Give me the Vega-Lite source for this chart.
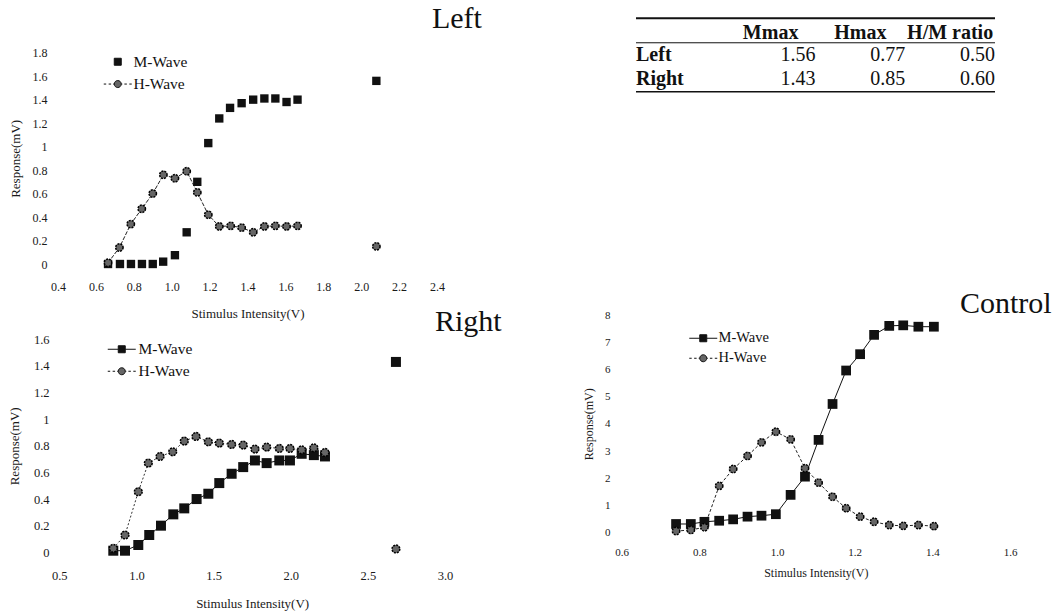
{
"$schema": "https://vega.github.io/schema/vega-lite/v6.json",
"width": 1059, "height": 613,
"autosize": {"type": "none"},
"padding": 0,
"background": "white",
"config": {
  "view": {"stroke": null},
  "axis": {"grid": false, "domain": false, "ticks": false, "labelFont": "Liberation Serif", "titleFont": "Liberation Serif", "labelColor": "#1a1a1a", "titleColor": "#1a1a1a", "titleFontWeight": "normal", "labelPadding": 0, "labelFlush": false, "labelOverlap": false},
  "text": {"font": "Liberation Serif", "color": "#111"}
},
"datasets": {
  "left": [
    {"intensity":0.664,"response":0,"wave":"M-Wave","set":"curve"},
    {"intensity":0.727,"response":0,"wave":"M-Wave","set":"curve"},
    {"intensity":0.785,"response":0,"wave":"M-Wave","set":"curve"},
    {"intensity":0.843,"response":0,"wave":"M-Wave","set":"curve"},
    {"intensity":0.900,"response":0,"wave":"M-Wave","set":"curve"},
    {"intensity":0.955,"response":0.02,"wave":"M-Wave","set":"curve"},
    {"intensity":1.017,"response":0.075,"wave":"M-Wave","set":"curve"},
    {"intensity":1.079,"response":0.27,"wave":"M-Wave","set":"curve"},
    {"intensity":1.135,"response":0.70,"wave":"M-Wave","set":"curve"},
    {"intensity":1.193,"response":1.03,"wave":"M-Wave","set":"curve"},
    {"intensity":1.251,"response":1.24,"wave":"M-Wave","set":"curve"},
    {"intensity":1.308,"response":1.33,"wave":"M-Wave","set":"curve"},
    {"intensity":1.369,"response":1.37,"wave":"M-Wave","set":"curve"},
    {"intensity":1.430,"response":1.40,"wave":"M-Wave","set":"curve"},
    {"intensity":1.489,"response":1.41,"wave":"M-Wave","set":"curve"},
    {"intensity":1.547,"response":1.41,"wave":"M-Wave","set":"curve"},
    {"intensity":1.606,"response":1.38,"wave":"M-Wave","set":"curve"},
    {"intensity":1.664,"response":1.40,"wave":"M-Wave","set":"curve"},
    {"intensity":2.080,"response":1.56,"wave":"M-Wave","set":"max"},
    {"intensity":0.664,"response":0.01,"wave":"H-Wave","set":"curve"},
    {"intensity":0.724,"response":0.14,"wave":"H-Wave","set":"curve"},
    {"intensity":0.784,"response":0.34,"wave":"H-Wave","set":"curve"},
    {"intensity":0.842,"response":0.47,"wave":"H-Wave","set":"curve"},
    {"intensity":0.900,"response":0.60,"wave":"H-Wave","set":"curve"},
    {"intensity":0.956,"response":0.76,"wave":"H-Wave","set":"curve"},
    {"intensity":1.017,"response":0.73,"wave":"H-Wave","set":"curve"},
    {"intensity":1.079,"response":0.79,"wave":"H-Wave","set":"curve"},
    {"intensity":1.135,"response":0.61,"wave":"H-Wave","set":"curve"},
    {"intensity":1.193,"response":0.42,"wave":"H-Wave","set":"curve"},
    {"intensity":1.251,"response":0.32,"wave":"H-Wave","set":"curve"},
    {"intensity":1.311,"response":0.325,"wave":"H-Wave","set":"curve"},
    {"intensity":1.369,"response":0.31,"wave":"H-Wave","set":"curve"},
    {"intensity":1.430,"response":0.27,"wave":"H-Wave","set":"curve"},
    {"intensity":1.489,"response":0.32,"wave":"H-Wave","set":"curve"},
    {"intensity":1.547,"response":0.325,"wave":"H-Wave","set":"curve"},
    {"intensity":1.606,"response":0.32,"wave":"H-Wave","set":"curve"},
    {"intensity":1.664,"response":0.325,"wave":"H-Wave","set":"curve"},
    {"intensity":2.080,"response":0.15,"wave":"H-Wave","set":"max"}
  ],
  "right": [
    {"intensity":0.850,"response":0.012,"wave":"M-Wave","set":"curve"},
    {"intensity":0.926,"response":0.012,"wave":"M-Wave","set":"curve"},
    {"intensity":1.012,"response":0.055,"wave":"M-Wave","set":"curve"},
    {"intensity":1.083,"response":0.13,"wave":"M-Wave","set":"curve"},
    {"intensity":1.159,"response":0.20,"wave":"M-Wave","set":"curve"},
    {"intensity":1.239,"response":0.285,"wave":"M-Wave","set":"curve"},
    {"intensity":1.310,"response":0.33,"wave":"M-Wave","set":"curve"},
    {"intensity":1.390,"response":0.40,"wave":"M-Wave","set":"curve"},
    {"intensity":1.466,"response":0.44,"wave":"M-Wave","set":"curve"},
    {"intensity":1.537,"response":0.52,"wave":"M-Wave","set":"curve"},
    {"intensity":1.617,"response":0.59,"wave":"M-Wave","set":"curve"},
    {"intensity":1.692,"response":0.64,"wave":"M-Wave","set":"curve"},
    {"intensity":1.768,"response":0.69,"wave":"M-Wave","set":"curve"},
    {"intensity":1.844,"response":0.67,"wave":"M-Wave","set":"curve"},
    {"intensity":1.926,"response":0.69,"wave":"M-Wave","set":"curve"},
    {"intensity":1.995,"response":0.69,"wave":"M-Wave","set":"curve"},
    {"intensity":2.071,"response":0.74,"wave":"M-Wave","set":"curve"},
    {"intensity":2.150,"response":0.73,"wave":"M-Wave","set":"curve"},
    {"intensity":2.222,"response":0.72,"wave":"M-Wave","set":"curve"},
    {"intensity":2.682,"response":1.43,"wave":"M-Wave","set":"max"},
    {"intensity":0.850,"response":0.03,"wave":"H-Wave","set":"curve"},
    {"intensity":0.926,"response":0.13,"wave":"H-Wave","set":"curve"},
    {"intensity":1.012,"response":0.455,"wave":"H-Wave","set":"curve"},
    {"intensity":1.077,"response":0.67,"wave":"H-Wave","set":"curve"},
    {"intensity":1.153,"response":0.72,"wave":"H-Wave","set":"curve"},
    {"intensity":1.235,"response":0.755,"wave":"H-Wave","set":"curve"},
    {"intensity":1.310,"response":0.835,"wave":"H-Wave","set":"curve"},
    {"intensity":1.386,"response":0.87,"wave":"H-Wave","set":"curve"},
    {"intensity":1.466,"response":0.83,"wave":"H-Wave","set":"curve"},
    {"intensity":1.537,"response":0.82,"wave":"H-Wave","set":"curve"},
    {"intensity":1.617,"response":0.81,"wave":"H-Wave","set":"curve"},
    {"intensity":1.692,"response":0.805,"wave":"H-Wave","set":"curve"},
    {"intensity":1.768,"response":0.775,"wave":"H-Wave","set":"curve"},
    {"intensity":1.844,"response":0.79,"wave":"H-Wave","set":"curve"},
    {"intensity":1.926,"response":0.78,"wave":"H-Wave","set":"curve"},
    {"intensity":1.995,"response":0.78,"wave":"H-Wave","set":"curve"},
    {"intensity":2.071,"response":0.77,"wave":"H-Wave","set":"curve"},
    {"intensity":2.150,"response":0.785,"wave":"H-Wave","set":"curve"},
    {"intensity":2.222,"response":0.75,"wave":"H-Wave","set":"curve"},
    {"intensity":2.682,"response":0.025,"wave":"H-Wave","set":"max"}
  ],
  "control": [
    {"intensity":0.740,"response":0.32,"wave":"M-Wave","set":"curve"},
    {"intensity":0.778,"response":0.32,"wave":"M-Wave","set":"curve"},
    {"intensity":0.813,"response":0.40,"wave":"M-Wave","set":"curve"},
    {"intensity":0.851,"response":0.44,"wave":"M-Wave","set":"curve"},
    {"intensity":0.887,"response":0.49,"wave":"M-Wave","set":"curve"},
    {"intensity":0.924,"response":0.59,"wave":"M-Wave","set":"curve"},
    {"intensity":0.960,"response":0.625,"wave":"M-Wave","set":"curve"},
    {"intensity":0.997,"response":0.68,"wave":"M-Wave","set":"curve"},
    {"intensity":1.035,"response":1.39,"wave":"M-Wave","set":"curve"},
    {"intensity":1.072,"response":2.06,"wave":"M-Wave","set":"curve"},
    {"intensity":1.107,"response":3.41,"wave":"M-Wave","set":"curve"},
    {"intensity":1.143,"response":4.73,"wave":"M-Wave","set":"curve"},
    {"intensity":1.178,"response":5.96,"wave":"M-Wave","set":"curve"},
    {"intensity":1.214,"response":6.56,"wave":"M-Wave","set":"curve"},
    {"intensity":1.250,"response":7.27,"wave":"M-Wave","set":"curve"},
    {"intensity":1.289,"response":7.60,"wave":"M-Wave","set":"curve"},
    {"intensity":1.325,"response":7.62,"wave":"M-Wave","set":"curve"},
    {"intensity":1.364,"response":7.57,"wave":"M-Wave","set":"curve"},
    {"intensity":1.404,"response":7.57,"wave":"M-Wave","set":"end"},
    {"intensity":0.740,"response":0.06,"wave":"H-Wave","set":"curve"},
    {"intensity":0.778,"response":0.10,"wave":"H-Wave","set":"curve"},
    {"intensity":0.813,"response":0.20,"wave":"H-Wave","set":"curve"},
    {"intensity":0.851,"response":1.72,"wave":"H-Wave","set":"curve"},
    {"intensity":0.887,"response":2.34,"wave":"H-Wave","set":"curve"},
    {"intensity":0.924,"response":2.82,"wave":"H-Wave","set":"curve"},
    {"intensity":0.960,"response":3.32,"wave":"H-Wave","set":"curve"},
    {"intensity":0.997,"response":3.71,"wave":"H-Wave","set":"curve"},
    {"intensity":1.035,"response":3.43,"wave":"H-Wave","set":"curve"},
    {"intensity":1.072,"response":2.37,"wave":"H-Wave","set":"curve"},
    {"intensity":1.107,"response":1.84,"wave":"H-Wave","set":"curve"},
    {"intensity":1.143,"response":1.32,"wave":"H-Wave","set":"curve"},
    {"intensity":1.178,"response":0.90,"wave":"H-Wave","set":"curve"},
    {"intensity":1.214,"response":0.59,"wave":"H-Wave","set":"curve"},
    {"intensity":1.250,"response":0.40,"wave":"H-Wave","set":"curve"},
    {"intensity":1.289,"response":0.28,"wave":"H-Wave","set":"curve"},
    {"intensity":1.325,"response":0.25,"wave":"H-Wave","set":"curve"},
    {"intensity":1.364,"response":0.28,"wave":"H-Wave","set":"curve"},
    {"intensity":1.404,"response":0.24,"wave":"H-Wave","set":"curve"}
  ],
  "table": [
    {"kind":"header","row":"header","col":"Mmax","text":"Mmax"},
    {"kind":"header","row":"header","col":"Hmax","text":"Hmax"},
    {"kind":"header","row":"header","col":"H/M ratio","text":"H/M ratio"},
    {"kind":"label","row":"Left","col":"label","text":"Left"},
    {"kind":"label","row":"Right","col":"label","text":"Right"},
    {"kind":"value","row":"Left","col":"Mmax","text":"1.56"},
    {"kind":"value","row":"Left","col":"Hmax","text":"0.77"},
    {"kind":"value","row":"Left","col":"H/M ratio","text":"0.50"},
    {"kind":"value","row":"Right","col":"Mmax","text":"1.43"},
    {"kind":"value","row":"Right","col":"Hmax","text":"0.85"},
    {"kind":"value","row":"Right","col":"H/M ratio","text":"0.60"}
  ]
},
"layer": [
  {
    "data": {"name": "left"},
    "encoding": {
      "x": {"field": "intensity", "type": "quantitative",
            "scale": {"domain": [0.4, 2.4], "range": [58, 437], "nice": false, "zero": false},
            "axis": {"orient": "bottom", "offset": -332, "values": [0.4,0.6,0.8,1.0,1.2,1.4,1.6,1.8,2.0,2.2,2.4], "format": ".1f", "labelFontSize": 12, "title": "Stimulus Intensity(V)", "titleFontSize": 13, "titlePadding": 15}},
      "y": {"field": "response", "type": "quantitative",
            "scale": {"domain": [0, 1.8], "range": [264, 52.7], "nice": false, "zero": false},
            "axis": {"orient": "left", "offset": -47, "values": [0,0.2,0.4,0.6,0.8,1,1.2,1.4,1.6,1.8], "format": "~g", "labelFontSize": 12, "title": "Response(mV)", "titleFontSize": 13, "titlePadding": 10}}
    },
    "layer": [
      {"transform": [{"filter": "datum.wave === 'H-Wave' && datum.set === 'curve'"}],
       "mark": {"type": "line", "stroke": "#222", "strokeWidth": 1, "strokeDash": [4, 1.5]}},
      {"transform": [{"filter": "datum.wave === 'M-Wave'"}],
       "mark": {"type": "square", "color": "#111", "size": 70, "opacity": 1}},
      {"transform": [{"filter": "datum.wave === 'H-Wave'"}],
       "mark": {"type": "point", "shape": "circle", "filled": true, "fill": "#666", "stroke": "#000", "strokeWidth": 1.5, "strokeDash": [2, 1], "size": 55, "opacity": 1}},
      {"mark": {"type": "point", "filled": true, "opacity": 0},
       "encoding": {
         "shape": {"field": "wave", "type": "nominal",
                   "scale": {"domain": ["M-Wave", "H-Wave"], "range": ["square", "M-4,0H-3.3M-2.6,0H-1.9M-1.3,0H-1M1,0H1.3M1.9,0H2.6M3.3,0H4M-1,0A1,1,0,1,1,1,0A1,1,0,1,1,-1,0Z"]},
                   "legend": {"orient": "none", "legendX": 110, "legendY": 54, "direction": "vertical", "title": null, "padding": 0, "symbolSize": 49, "symbolOpacity": 1, "labelFont": "Liberation Serif", "labelFontSize": 15.5, "labelColor": "#111", "labelOffset": 8, "rowPadding": 5.3, "encode": {"symbols": {"update": {"stroke": {"value": "#111"}, "strokeWidth": {"value": 1}}}}}},
         "color": {"field": "wave", "type": "nominal",
                   "scale": {"domain": ["M-Wave", "H-Wave"], "range": ["#111", "#666"]},
                   "legend": {"orient": "none", "legendX": 110, "legendY": 54, "direction": "vertical", "title": null, "padding": 0, "symbolSize": 49, "symbolOpacity": 1, "labelFont": "Liberation Serif", "labelFontSize": 15.5, "labelColor": "#111", "labelOffset": 8, "rowPadding": 5.3, "encode": {"symbols": {"update": {"stroke": {"value": "#111"}, "strokeWidth": {"value": 1}}}}}}
       }},
      {"transform": [{"filter": "datum.wave === 'M-Wave' && datum.set === 'max'"}],
       "mark": {"type": "text", "text": "Left", "font": "Liberation Serif", "fontSize": 30, "align": "left", "baseline": "alphabetic", "dx": 55.6, "dy": -52.6}}
    ]
  },
  {
    "data": {"name": "right"},
    "encoding": {
      "x": {"field": "intensity", "type": "quantitative",
            "scale": {"domain": [0.5, 3.0], "range": [59.3, 445], "nice": false, "zero": false},
            "axis": {"orient": "bottom", "offset": -44, "values": [0.5,1.0,1.5,2.0,2.5,3.0], "format": ".1f", "labelFontSize": 12.5, "title": "Stimulus Intensity(V)", "titleFontSize": 13, "titlePadding": 16}},
      "y": {"field": "response", "type": "quantitative",
            "scale": {"domain": [0, 1.6], "range": [552.3, 339.3], "nice": false, "zero": false},
            "axis": {"orient": "left", "offset": -49, "values": [0,0.2,0.4,0.6,0.8,1,1.2,1.4,1.6], "format": "~g", "labelFontSize": 12.5, "title": "Response(mV)", "titleFontSize": 13, "titlePadding": 12}}
    },
    "layer": [
      {"transform": [{"filter": "datum.wave === 'H-Wave' && datum.set === 'curve'"}],
       "mark": {"type": "line", "stroke": "#333", "strokeWidth": 1, "strokeDash": [2, 2]}},
      {"transform": [{"filter": "datum.wave === 'M-Wave' && datum.set === 'curve'"}],
       "mark": {"type": "line", "stroke": "#111", "strokeWidth": 1}},
      {"transform": [{"filter": "datum.wave === 'M-Wave'"}],
       "mark": {"type": "square", "color": "#111", "size": 100, "opacity": 1}},
      {"transform": [{"filter": "datum.wave === 'H-Wave'"}],
       "mark": {"type": "point", "shape": "circle", "filled": true, "fill": "#666", "stroke": "#000", "strokeWidth": 1.5, "strokeDash": [2, 1], "size": 60, "opacity": 1}},
      {"mark": {"type": "point", "filled": true, "opacity": 0},
       "encoding": {
         "shape": {"field": "wave", "type": "nominal",
                   "scale": {"domain": ["M-Wave", "H-Wave"], "range": ["M-4,0H-1M1,0H4M-1,-1H1V1H-1Z", "M-4,0H-3.3M-2.6,0H-1.9M-1.3,0H-1M1,0H1.3M1.9,0H2.6M3.3,0H4M-1,0A1,1,0,1,1,1,0A1,1,0,1,1,-1,0Z"]},
                   "legend": {"orient": "none", "legendX": 114, "legendY": 341.5, "direction": "vertical", "title": null, "padding": 0, "symbolSize": 49, "symbolOpacity": 1, "labelFont": "Liberation Serif", "labelFontSize": 15.5, "labelColor": "#111", "labelOffset": 9, "rowPadding": 5, "encode": {"symbols": {"update": {"stroke": {"value": "#111"}, "strokeWidth": {"value": 1}}}}}},
         "color": {"field": "wave", "type": "nominal",
                   "scale": {"domain": ["M-Wave", "H-Wave"], "range": ["#111", "#666"]},
                   "legend": {"orient": "none", "legendX": 114, "legendY": 341.5, "direction": "vertical", "title": null, "padding": 0, "symbolSize": 49, "symbolOpacity": 1, "labelFont": "Liberation Serif", "labelFontSize": 15.5, "labelColor": "#111", "labelOffset": 9, "rowPadding": 5, "encode": {"symbols": {"update": {"stroke": {"value": "#111"}, "strokeWidth": {"value": 1}}}}}}
       }},
      {"transform": [{"filter": "datum.wave === 'M-Wave' && datum.set === 'max'"}],
       "mark": {"type": "text", "text": "Right", "font": "Liberation Serif", "fontSize": 30, "align": "left", "baseline": "alphabetic", "dx": 39, "dy": -31}}
    ]
  },
  {
    "data": {"name": "control"},
    "encoding": {
      "x": {"field": "intensity", "type": "quantitative",
            "scale": {"domain": [0.6, 1.6], "range": [621.7, 1010], "nice": false, "zero": false},
            "axis": {"orient": "bottom", "offset": -67, "values": [0.6,0.8,1.0,1.2,1.4,1.6], "format": ".1f", "labelFontSize": 11, "title": "Stimulus Intensity(V)", "titleFontSize": 12, "titlePadding": 10}},
      "y": {"field": "response", "type": "quantitative",
            "scale": {"domain": [0, 8], "range": [532.7, 315], "nice": false, "zero": false},
            "axis": {"orient": "left", "offset": -610, "values": [0,1,2,3,4,5,6,7,8], "format": "~g", "labelFontSize": 11, "title": "Response(mV)", "titleFontSize": 12, "titlePadding": 9}}
    },
    "layer": [
      {"transform": [{"filter": "datum.wave === 'H-Wave'"}],
       "mark": {"type": "line", "stroke": "#222", "strokeWidth": 1, "strokeDash": [3, 2]}},
      {"transform": [{"filter": "datum.wave === 'M-Wave'"}],
       "mark": {"type": "line", "stroke": "#111", "strokeWidth": 1}},
      {"transform": [{"filter": "datum.wave === 'M-Wave'"}],
       "mark": {"type": "square", "color": "#111", "size": 95, "opacity": 1}},
      {"transform": [{"filter": "datum.wave === 'H-Wave'"}],
       "mark": {"type": "point", "shape": "circle", "filled": true, "fill": "#666", "stroke": "#000", "strokeWidth": 1.5, "strokeDash": [2, 1], "size": 55, "opacity": 1}},
      {"mark": {"type": "point", "filled": true, "opacity": 0},
       "encoding": {
         "shape": {"field": "wave", "type": "nominal",
                   "scale": {"domain": ["M-Wave", "H-Wave"], "range": ["M-4,0H-1M1,0H4M-1,-1H1V1H-1Z", "M-4,0H-3.3M-2.6,0H-1.9M-1.3,0H-1M1,0H1.3M1.9,0H2.6M3.3,0H4M-1,0A1,1,0,1,1,1,0A1,1,0,1,1,-1,0Z"]},
                   "legend": {"orient": "none", "legendX": 696, "legendY": 331, "direction": "vertical", "title": null, "padding": 0, "symbolSize": 49, "symbolOpacity": 1, "labelFont": "Liberation Serif", "labelFontSize": 14.5, "labelColor": "#111", "labelOffset": 8, "rowPadding": 5, "encode": {"symbols": {"update": {"stroke": {"value": "#111"}, "strokeWidth": {"value": 1}}}}}},
         "color": {"field": "wave", "type": "nominal",
                   "scale": {"domain": ["M-Wave", "H-Wave"], "range": ["#111", "#666"]},
                   "legend": {"orient": "none", "legendX": 696, "legendY": 331, "direction": "vertical", "title": null, "padding": 0, "symbolSize": 49, "symbolOpacity": 1, "labelFont": "Liberation Serif", "labelFontSize": 14.5, "labelColor": "#111", "labelOffset": 8, "rowPadding": 5, "encode": {"symbols": {"update": {"stroke": {"value": "#111"}, "strokeWidth": {"value": 1}}}}}}
       }},
      {"transform": [{"filter": "datum.wave === 'M-Wave' && datum.set === 'end'"}],
       "mark": {"type": "text", "text": "Control", "font": "Liberation Serif", "fontSize": 30, "align": "left", "baseline": "alphabetic", "dx": 26, "dy": -14}}
    ]
  },
  {
    "data": {"name": "table"},
    "layer": [
      {"transform": [{"filter": "datum.kind === 'header'"}],
       "mark": {"type": "text", "font": "Liberation Serif", "fontSize": 20, "fontWeight": "bold", "align": "center", "baseline": "middle", "dy": 2},
       "encoding": {
         "x": {"field": "col", "type": "nominal", "bandPosition": 0.5, "scale": {"type": "band", "domain": ["label","Mmax","Hmax","H/M ratio"], "range": [636, 995], "paddingInner": 0, "paddingOuter": 0}, "axis": null},
         "y": {"field": "row", "type": "nominal", "bandPosition": 0.5, "scale": {"type": "band", "domain": ["header","Left","Right"], "range": [18.3, 91.7], "paddingInner": 0, "paddingOuter": 0}, "axis": null},
         "text": {"field": "text"}}},
      {"transform": [{"filter": "datum.kind === 'label'"}],
       "mark": {"type": "text", "font": "Liberation Serif", "fontSize": 20, "fontWeight": "bold", "align": "left", "baseline": "middle"},
       "encoding": {
         "x": {"field": "col", "type": "nominal", "bandPosition": 0, "scale": {"type": "band", "domain": ["label","Mmax","Hmax","H/M ratio"], "range": [636, 995], "paddingInner": 0, "paddingOuter": 0}, "axis": null},
         "y": {"field": "row", "type": "nominal", "bandPosition": 0.5, "scale": {"type": "band", "domain": ["header","Left","Right"], "range": [18.3, 91.7], "paddingInner": 0, "paddingOuter": 0}, "axis": null},
         "text": {"field": "text"}}},
      {"transform": [{"filter": "datum.kind === 'value'"}],
       "mark": {"type": "text", "font": "Liberation Serif", "fontSize": 20, "align": "right", "baseline": "middle"},
       "encoding": {
         "x": {"field": "col", "type": "nominal", "bandPosition": 1, "scale": {"type": "band", "domain": ["label","Mmax","Hmax","H/M ratio"], "range": [636, 995], "paddingInner": 0, "paddingOuter": 0}, "axis": null},
         "y": {"field": "row", "type": "nominal", "bandPosition": 0.5, "scale": {"type": "band", "domain": ["header","Left","Right"], "range": [18.3, 91.7], "paddingInner": 0, "paddingOuter": 0}, "axis": null},
         "text": {"field": "text"}}},
      {"data": {"values": [{"row": "header"}]},
       "mark": {"type": "rule", "stroke": "#111", "strokeWidth": 2},
       "encoding": {
         "x": {"datum": "label", "bandPosition": 0, "scale": {"type": "band", "domain": ["label","Mmax","Hmax","H/M ratio"], "range": [636, 995], "paddingInner": 0, "paddingOuter": 0}, "axis": null},
         "x2": {"datum": "H/M ratio", "bandPosition": 1},
         "y": {"field": "row", "type": "nominal", "bandPosition": 0, "scale": {"type": "band", "domain": ["header","Left","Right"], "range": [18.3, 91.7], "paddingInner": 0, "paddingOuter": 0}, "axis": null}}},
      {"data": {"values": [{"row": "Left"}]},
       "mark": {"type": "rule", "stroke": "#111", "strokeWidth": 1},
       "encoding": {
         "x": {"datum": "label", "bandPosition": 0, "scale": {"type": "band", "domain": ["label","Mmax","Hmax","H/M ratio"], "range": [636, 995], "paddingInner": 0, "paddingOuter": 0}, "axis": null},
         "x2": {"datum": "H/M ratio", "bandPosition": 1},
         "y": {"field": "row", "type": "nominal", "bandPosition": 0, "scale": {"type": "band", "domain": ["header","Left","Right"], "range": [18.3, 91.7], "paddingInner": 0, "paddingOuter": 0}, "axis": null}}},
      {"data": {"values": [{"row": "Right"}]},
       "mark": {"type": "rule", "stroke": "#111", "strokeWidth": 1.5},
       "encoding": {
         "x": {"datum": "label", "bandPosition": 0, "scale": {"type": "band", "domain": ["label","Mmax","Hmax","H/M ratio"], "range": [636, 995], "paddingInner": 0, "paddingOuter": 0}, "axis": null},
         "x2": {"datum": "H/M ratio", "bandPosition": 1},
         "y": {"field": "row", "type": "nominal", "bandPosition": 1, "scale": {"type": "band", "domain": ["header","Left","Right"], "range": [18.3, 91.7], "paddingInner": 0, "paddingOuter": 0}, "axis": null}}}
    ]
  }
],
"resolve": {
  "scale": {"x": "independent", "y": "independent", "shape": "independent", "color": "independent"},
  "axis": {"x": "independent", "y": "independent"},
  "legend": {"shape": "independent", "color": "independent"}
}
}
